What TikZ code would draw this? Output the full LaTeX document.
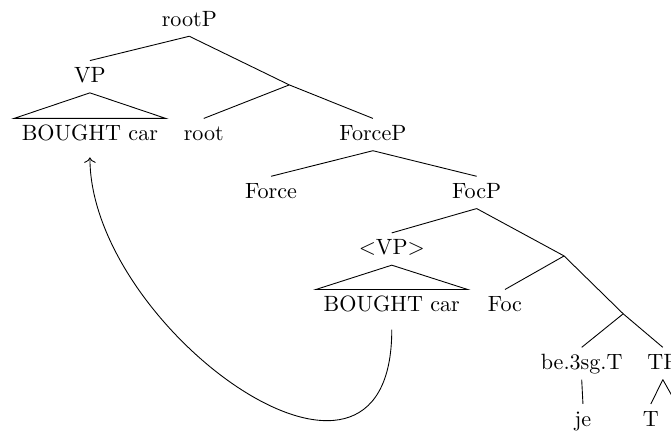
\documentclass[tikz,border=0pt]{standalone}
\usepackage{tikz}
\usetikzlibrary{arrows.meta,calc,positioning}

\begin{document}
\begin{tikzpicture}[
  cat/.style={
    inner sep=3.33pt,
    text height=1.5ex,
    text depth=.25ex
  },
  branch/.style={
    draw=black,
    line width=0.4pt
  },
  roof/.style={branch},
  movement/.style={
    ->,
    draw=black,
    line width=0.4pt,
    shorten <=3.6pt,
    shorten >=3pt
  }
]
\useasboundingbox (0,0) rectangle (10.67,-6.90);

% rootP layer
\node[cat] (rootP) at (3.01,-0.32) {rootP};
\node[cat] (vp) at (1.43,-1.22) {VP};
\coordinate (n1) at (4.60,-1.35);
\node[cat] (bought) at (1.43,-2.14) {BOUGHT car};
\node[cat] (root) at (3.24,-2.14) {root};
\node[cat] (forceP) at (5.93,-2.14) {ForceP};

% ForceP layer
\node[cat] (force) at (4.31,-3.06) {Force};
\node[cat] (focP) at (7.58,-3.06) {FocP};

% FocP layer
\node[cat] (vpcopy) at (6.23,-3.96) {$<$VP$>$};
\coordinate (n2) at (8.97,-4.07);
\node[cat] (boughtcopy) at (6.23,-4.86) {BOUGHT car};
\node[cat] (foc) at (8.03,-4.86) {Foc};
\coordinate (n3) at (9.91,-4.99);
\node[cat] (be) at (9.25,-5.78) {be.3sg.T};
\node[cat] (tP) at (10.54,-5.78) {TP};
\node[cat] (je) at (9.27,-6.68) {je};
\node[cat] (t) at (10.35,-6.68) {T};
\coordinate (tPright) at (10.74,-6.39);

% Branches
\draw[branch] (rootP.south) -- (vp.north);
\draw[branch] (rootP.south) -- (n1);
\draw[branch] (n1) -- (root.north);
\draw[branch] (n1) -- (forceP.north);
\draw[branch] (forceP.south) -- (force.north);
\draw[branch] (forceP.south) -- (focP.north);
\draw[branch] (focP.south) -- (vpcopy.north);
\draw[branch] (focP.south) -- (n2);
\draw[branch] (n2) -- (foc.north);
\draw[branch] (n2) -- (n3);
\draw[branch] (n3) -- (be.north);
\draw[branch] (n3) -- (tP.north);
\draw[branch] (be.south) -- (je.north);
\draw[branch] (tP.south) -- (t.north);
\draw[branch] (tP.south) -- (tPright);

% Roofs
\draw[roof] (vp.south) -- (bought.north west) -- (bought.north east) -- cycle;
\draw[roof] (vpcopy.south) -- (boughtcopy.north west) -- (boughtcopy.north east) -- cycle;

% Movement
\draw[movement] (boughtcopy.south) .. controls +(0,-3.58) and +(0,-2.83) .. (bought.south);
\end{tikzpicture}
\end{document}
